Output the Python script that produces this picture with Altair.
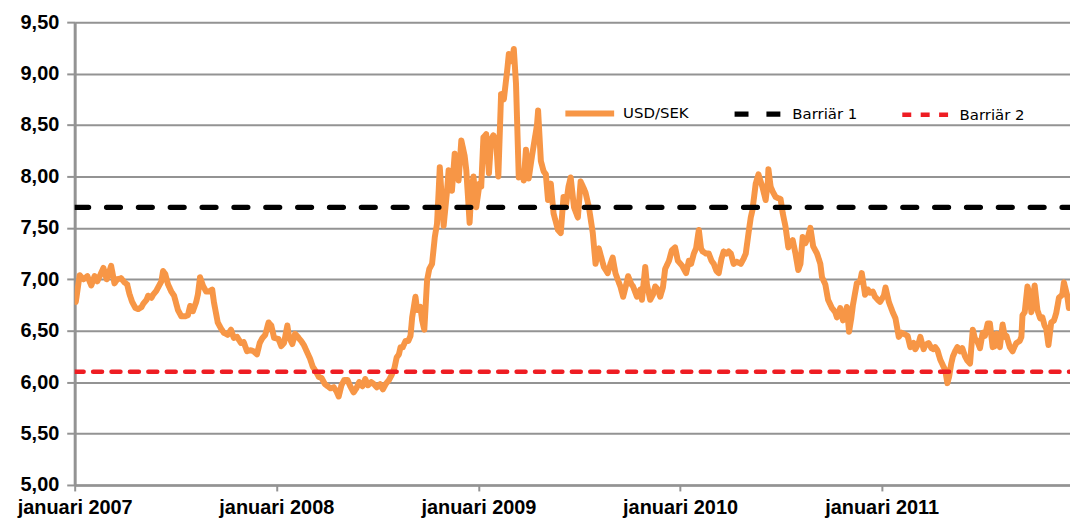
import altair as alt
import pandas as pd

# ---- USD/SEK series (month-day per year) ----
d2007 = ["01-03","01-10","01-17","01-24","01-31","02-06","02-11","02-17","02-22","02-28",
         "03-05","03-08","03-14","03-19","03-26","04-01","04-06","04-10","04-15","04-21",
         "04-26","05-02","05-05","05-11","05-14","05-20","05-23","05-29","06-03","06-07",
         "06-10","06-14","06-19","06-25","06-30","07-07","07-13","07-20","07-25","07-29",
         "08-03","08-09","08-12","08-16","08-21","08-27","09-01","09-07","09-10","09-17",
         "09-23","09-28","10-05","10-11","10-16","10-22","10-29","11-03","11-09","11-16",
         "11-21","11-27","12-02","12-07","12-12","12-18","12-23","12-28"]
v2007 = [6.78,7.04,7.00,7.03,6.94,7.03,6.98,7.05,7.11,7.00,
         7.08,7.13,6.96,7.00,7.01,6.97,6.95,6.86,6.78,6.72,
         6.71,6.73,6.76,6.80,6.84,6.82,6.85,6.89,6.94,6.98,
         7.08,7.05,6.95,6.88,6.84,6.70,6.64,6.64,6.65,6.74,
         6.69,6.78,6.85,7.02,6.94,6.88,6.88,6.90,6.78,6.58,
         6.52,6.48,6.46,6.51,6.43,6.44,6.38,6.39,6.30,6.31,
         6.30,6.27,6.38,6.43,6.46,6.58,6.55,6.43]

d2008 = ["01-05","01-10","01-15","01-21","01-24","01-30","02-04","02-09","02-15","02-20",
         "02-25","03-02","03-07","03-13","03-18","03-23","03-29","04-03","04-08","04-14",
         "04-19","04-23","04-28","05-03","05-09","05-14","05-20","05-25","05-30","06-05",
         "06-10","06-15","06-21","06-26","07-01","07-07","07-12","07-17","07-23","07-28",
         "08-02","08-06","08-10","08-13","08-17","08-22","08-27","08-31","09-03","09-09",
         "09-12","09-18","09-21","09-25","09-30","10-04","10-09","10-14","10-18","10-21",
         "10-23","10-27","10-30","11-05","11-08","11-14","11-19","11-23","11-26","12-01",
         "12-07","12-10","12-16","12-19","12-23","12-28"]
v2008 = [6.42,6.35,6.38,6.55,6.44,6.37,6.47,6.44,6.40,6.36,
         6.30,6.23,6.15,6.10,6.05,6.04,5.98,5.96,5.94,5.95,
         5.91,5.86,5.97,6.02,6.02,5.96,5.90,5.94,6.00,5.96,
         6.03,5.97,6.00,5.98,5.95,5.98,5.93,5.98,6.02,6.07,
         6.14,6.24,6.27,6.34,6.34,6.40,6.40,6.45,6.63,6.83,
         6.70,6.73,6.60,6.51,6.99,7.10,7.15,7.41,7.54,7.86,
         8.09,7.75,7.52,7.85,8.06,7.86,8.22,8.10,7.96,8.35,
         8.20,8.06,7.55,7.85,8.00,7.70]

d2009 = ["01-03","01-06","01-10","01-15","01-20","01-24","01-28","02-02","02-06","02-11",
         "02-16","02-22","02-25","03-03","03-06","03-10","03-15","03-21","03-24","03-28",
         "04-02","04-08","04-11","04-17","04-19","04-24","04-29","05-03","05-07","05-12",
         "05-17","05-25","05-30","06-04","06-08","06-13","06-17","06-23","06-30","07-05",
         "07-11","07-14","07-20","07-27","08-01","08-07","08-10","08-16","08-23","08-28",
         "09-01","09-06","09-10","09-15","09-20","09-26","09-29","10-05","10-08","10-15",
         "10-21","10-24","10-30","11-02","11-08","11-13","11-17","11-22","11-26","12-01",
         "12-05","12-12","12-17","12-23","12-28"]
v2009 = [7.93,7.90,8.38,8.41,8.03,8.36,8.40,8.35,8.00,8.80,
         8.75,9.03,9.19,9.12,9.24,8.90,7.99,8.05,7.96,8.26,
         7.98,8.20,8.30,8.50,8.64,8.15,8.05,8.02,7.77,7.93,
         7.64,7.48,7.45,7.80,7.70,7.90,7.99,7.70,7.60,7.95,
         7.88,7.84,7.70,7.45,7.15,7.30,7.24,7.12,7.06,7.15,
         7.21,7.06,7.00,6.93,6.83,6.96,7.03,6.95,6.93,6.83,
         6.90,6.80,7.12,6.95,6.80,6.85,6.93,6.90,6.83,6.92,
         7.10,7.18,7.28,7.31,7.18]

d2010 = ["01-05","01-08","01-12","01-17","01-21","01-26","01-30","02-04","02-08","02-11",
         "02-17","02-22","02-27","03-03","03-08","03-12","03-17","03-21","03-26","03-30",
         "04-03","04-08","04-14","04-21","04-26","04-30","05-05","05-09","05-12","05-18",
         "05-23","05-27","05-30","06-05","06-09","06-10","06-14","06-18","06-23","06-27",
         "07-02","07-06","07-11","07-16","07-24","07-29","08-03","08-07","08-11","08-16",
         "08-21","08-25","08-30","09-06","09-12","09-15","09-21","09-26","10-03","10-09",
         "10-12","10-18","10-23","10-27","10-30","11-03","11-07","11-10","11-17","11-23",
         "11-26","12-02","12-07","12-11","12-16","12-20","12-25","12-29"]
v2010 = [7.13,7.10,7.06,7.18,7.15,7.25,7.30,7.48,7.30,7.27,
         7.25,7.25,7.18,7.15,7.08,7.06,7.20,7.27,7.25,7.27,
         7.25,7.15,7.17,7.15,7.20,7.25,7.45,7.60,7.67,7.93,
         8.02,7.95,7.90,7.77,7.95,8.07,7.90,7.85,7.80,7.79,
         7.78,7.64,7.51,7.31,7.38,7.25,7.09,7.15,7.41,7.35,
         7.42,7.50,7.32,7.25,7.15,7.02,6.95,6.80,6.72,6.68,
         6.63,6.72,6.60,6.65,6.73,6.49,6.62,6.75,6.96,6.98,
         7.06,6.85,6.90,6.87,6.88,6.83,6.80,6.78]

d2011 = ["01-05","01-08","01-14","01-21","01-26","01-30","02-01","02-06","02-10","02-17",
         "02-22","02-28","03-03","03-09","03-12","03-18","03-21","03-27","04-01","04-05",
         "04-08","04-12","04-17","04-23","04-26","04-30","05-03","05-07","05-10","05-14",
         "05-18","05-23","05-27","06-01","06-05","06-10","06-15","06-19","06-23","06-28",
         "07-03","07-07","07-12","07-16","07-21","07-25","07-28","08-03","08-08","08-12",
         "08-15","08-21","08-26","08-30","09-02","09-08","09-11","09-13","09-17","09-22",
         "09-26","09-29","10-05","10-10","10-15","10-19","10-23","10-26","10-30","11-04",
         "11-09","11-13","11-18","11-24","11-27","12-03","12-06","12-10"]
v2011 = [6.84,6.92,6.78,6.68,6.62,6.50,6.44,6.48,6.47,6.45,
         6.34,6.38,6.32,6.38,6.44,6.32,6.36,6.38,6.33,6.32,
         6.34,6.31,6.22,6.15,6.12,5.99,6.05,6.18,6.25,6.30,
         6.34,6.30,6.33,6.25,6.21,6.18,6.51,6.42,6.40,6.33,
         6.48,6.45,6.57,6.57,6.34,6.35,6.47,6.34,6.56,6.44,
         6.45,6.34,6.30,6.35,6.38,6.40,6.44,6.65,6.68,6.93,
         6.85,6.68,6.94,6.70,6.62,6.63,6.55,6.52,6.36,6.58,
         6.60,6.67,6.82,6.85,6.97,6.84,6.72,6.77]

years_md = {2007: (d2007, v2007), 2008: (d2008, v2008), 2009: (d2009, v2009),
            2010: (d2010, v2010), 2011: (d2011, v2011)}

# ---- barriers ----
barrier_names = ["Barriär 1", "Barriär 2"]
barrier_levels = [7.70, 6.10]
period = ["2007-01-01", "2011-12-08"]

series_names = ["USD/SEK", "Barriär 1", "Barriär 2"]
series_colors = ["#F79646", "#000000", "#EE1D23"]
series_dashes = [[1, 0], [14, 18], [9, 9.5]]
series_widths = [6, 4.5, 4.5]

year_ticks = [2007, 2008, 2009, 2010, 2011]
y_ticks = [5.0, 5.5, 6.0, 6.5, 7.0, 7.5, 8.0, 8.5, 9.0, 9.5]

rows = []
for yr, (ds, vs) in years_md.items():
    for d, v in zip(ds, vs):
        rows.append({"date": f"{yr}-{d}", "value": v, "series": "USD/SEK"})
usd = pd.DataFrame(rows)

brows = []
for name, lvl in zip(barrier_names, barrier_levels):
    for p in period:
        brows.append({"date": p, "value": lvl, "series": name})
bar = pd.DataFrame(brows)

grid_gray = "#939393"

legend_kw = dict(
    title=None, orient="none", direction="horizontal",
    legendX=490, legendY=64, padding=0,
    symbolType="stroke", symbolSize=2401, symbolStrokeWidth=5,
    labelFont="DejaVu Sans", labelFontSize=15, labelColor="#000000",
    labelOffset=6, columnPadding=35,
)

x_enc = alt.X(
    "date:T",
    scale=alt.Scale(type="utc",
                    domain=[alt.DateTime(year=2007, month=1, date=1, utc=True),
                            alt.DateTime(year=2011, month=12, date=8, utc=True)]),
    axis=alt.Axis(
        values=[alt.DateTime(year=y, month=1, date=1, utc=True) for y in year_ticks],
        labelExpr="'januari ' + utcFormat(datum.value, '%Y')",
        grid=False, title=None,
        tickSize=6, tickColor=grid_gray, tickWidth=2,
        domainColor=grid_gray, domainWidth=2.5,
        labelFont="Liberation Sans", labelFontWeight="bold", labelFontSize=20,
        labelColor="#000000", labelPadding=7, labelAlign="center",
        labelOverlap=False, labelFlush=False,
    ),
)
y_enc = alt.Y(
    "value:Q",
    scale=alt.Scale(domain=[5.0, 9.5], nice=False, zero=False),
    axis=alt.Axis(
        values=y_ticks, format=".2f",
        labelExpr="replace(datum.label, '.', ',')",
        title=None, grid=True, gridColor=grid_gray, gridWidth=2,
        tickSize=8, tickColor=grid_gray, tickWidth=2,
        domainColor=grid_gray, domainWidth=3,
        labelFont="Liberation Sans", labelFontWeight="bold", labelFontSize=20,
        labelColor="#000000", labelPadding=8,
    ),
)
color_enc = alt.Color(
    "series:N",
    scale=alt.Scale(domain=series_names, range=series_colors),
    legend=alt.Legend(**legend_kw),
)
dash_enc = alt.StrokeDash(
    "series:N",
    scale=alt.Scale(domain=series_names, range=series_dashes),
    legend=alt.Legend(**legend_kw),
)
width_enc = alt.StrokeWidth(
    "series:N",
    scale=alt.Scale(domain=series_names, range=series_widths),
    legend=None,
)

usd_layer = alt.Chart(usd).mark_line(strokeCap="round", strokeJoin="round", clip=True).encode(
    x=x_enc, y=y_enc, color=color_enc, strokeDash=dash_enc, strokeWidth=width_enc,
    order="date:T",
)
bar_layer = alt.Chart(bar).mark_line(strokeCap="round", clip=True).encode(
    x=x_enc, y=y_enc, color=color_enc, strokeDash=dash_enc, strokeWidth=width_enc,
)

chart = alt.layer(usd_layer, bar_layer).properties(
    width=1000, height=465,
    autosize=alt.AutoSizeParams(type="none"),
    padding={"left": 67, "top": 13, "right": 0, "bottom": 36},
).configure_view(stroke=None).configure(background="white")

chart.save("out.html", embed_options={"renderer": "svg", "actions": False})
